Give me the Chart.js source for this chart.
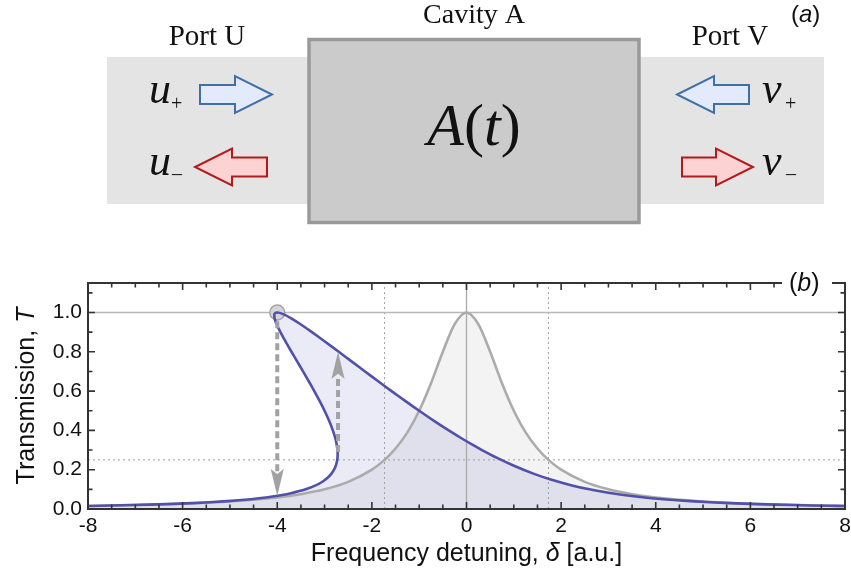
<!DOCTYPE html>
<html>
<head>
<meta charset="utf-8">
<script src="https://cdn.jsdelivr.net/npm/chart.js@4.4.1/dist/chart.umd.min.js"></script>
<style>
html, body { margin: 0; padding: 0; background: #fff; }
canvas { display: block; }
</style>
</head>
<body>
<canvas id="chart" width="851" height="574"></canvas>
<script>
// linear cavity (grey Lorentzian)
const detuning = [-8, -7, -6, -5, -4, -3.5, -3, -2.5, -2, -1.75, -1.5, -1.25, -1, -0.75, -0.5, -0.25, 0,
                  0.25, 0.5, 0.75, 1, 1.25, 1.5, 1.75, 2, 2.5, 3, 3.5, 4, 5, 6, 7, 8];
const linearT = [0.0154, 0.02, 0.027, 0.0385, 0.0588, 0.0755, 0.1, 0.138, 0.2, 0.246, 0.308, 0.39, 0.5, 0.64, 0.8, 0.941, 1,
                 0.941, 0.8, 0.64, 0.5, 0.39, 0.308, 0.246, 0.2, 0.138, 0.1, 0.0755, 0.0588, 0.0385, 0.027, 0.02, 0.0154];

// nonlinear cavity (blue S-curve), points in order along the curve
const kerrDetuning = [-8, -7.08, -6.345, -5.806, -5.059, -4.559, -4.198, -3.925, -3.711, -3.4, -3.188, -3.038,
                      -2.931, -2.854, -2.8, -2.763, -2.74, -2.727, -2.724, -2.728, -2.745, -2.773, -2.825, -2.906,
                      -3.0, -3.105, -3.217, -3.334, -3.455, -3.577, -3.7, -3.82, -3.933, -4.013, -4.056, -4.061,
                      -4.037, -4.0, -3.947, -3.86, -3.704, -3.507, -3.267, -2.98, -2.7, -2.423, -2.145, -1.866,
                      -1.584, -1.296, -1.0, -0.695, -0.375, -0.107, 0.105, 0.328, 0.647, 1.003, 1.414, 1.781,
                      2.228, 2.6, 3.071, 3.718, 4.159, 4.739, 5.566, 6.145, 6.92, 7.655, 8];
const kerrT = [0.0156, 0.02, 0.025, 0.03, 0.04, 0.05, 0.06, 0.07, 0.08, 0.1, 0.12, 0.14,
               0.16, 0.18, 0.2, 0.22, 0.24, 0.26, 0.28, 0.3, 0.33, 0.36, 0.4, 0.45,
               0.5, 0.55, 0.6, 0.65, 0.7, 0.75, 0.8, 0.85, 0.9, 0.94, 0.97, 0.99,
               0.998, 1.0, 0.998, 0.99, 0.97, 0.94, 0.9, 0.85, 0.8, 0.75, 0.7, 0.65,
               0.6, 0.55, 0.5, 0.45, 0.4, 0.36, 0.33, 0.3, 0.26, 0.22, 0.18, 0.15,
               0.12, 0.1, 0.08, 0.06, 0.05, 0.04, 0.03, 0.025, 0.02, 0.0165, 0.0152];

const xTickValues = [-8, -6, -4, -2, 0, 2, 4, 6, 8];
const yTickValues = [0, 0.2, 0.4, 0.6, 0.8, 1.0];

// reference lines
const halfLevel = 0.25;
const halfWidth = [-1.732, 1.732];
// bistability jumps: [x, from T, to T]
const jumps = [[-4, 0.955, 0.066], [-2.715, 0.29, 0.80]];
const peakPoint = [{x: -4, y: 1}];

const toXY = (xs, ys) => xs.map((v, i) => ({x: v, y: ys[i]}));

const SANS = '"Liberation Sans", Arial, sans-serif';
const SERIF = '"Liberation Serif", "Times New Roman", serif';

function runs(ctx, parts, x, y, align) {
  let w = 0;
  parts.forEach(p => { ctx.font = p[1]; w += ctx.measureText(p[0]).width; });
  let cx = align === 'center' ? x - w / 2 : x;
  ctx.textAlign = 'left';
  parts.forEach(p => { ctx.font = p[1]; ctx.fillText(p[0], cx, y); cx += ctx.measureText(p[0]).width; });
}

function blockArrow(ctx, tail, tip, cy, fill, stroke) {
  const dir = Math.sign(tip - tail);
  const hb = tip - dir * 37;
  const sh = 9.5, hh = 18.5;
  ctx.beginPath();
  ctx.moveTo(tail, cy - sh);
  ctx.lineTo(hb, cy - sh);
  ctx.lineTo(hb, cy - hh);
  ctx.lineTo(tip, cy);
  ctx.lineTo(hb, cy + hh);
  ctx.lineTo(hb, cy + sh);
  ctx.lineTo(tail, cy + sh);
  ctx.closePath();
  ctx.fillStyle = fill;
  ctx.fill();
  ctx.lineWidth = 2;
  ctx.strokeStyle = stroke;
  ctx.stroke();
}

function drawDiagram(ctx) {
  ctx.save();
  ctx.fillStyle = '#e4e4e4';
  ctx.fillRect(107, 57, 202, 147);
  ctx.fillRect(640, 57, 184, 147);
  ctx.fillStyle = '#cbcbcb';
  ctx.fillRect(309, 39.5, 330, 183);
  ctx.strokeStyle = '#9a9a9a';
  ctx.lineWidth = 3.5;
  ctx.strokeRect(309, 39.5, 330, 183);

  ctx.fillStyle = '#111';
  ctx.textBaseline = 'alphabetic';
  runs(ctx, [['Cavity A', '28px ' + SERIF]], 474, 23, 'center');
  runs(ctx, [['Port U', '29px ' + SERIF]], 207, 45, 'center');
  runs(ctx, [['Port V', '29px ' + SERIF]], 730, 45, 'center');
  runs(ctx, [['(', '24px ' + SANS], ['a', 'italic 24px ' + SANS], [')', '24px ' + SANS]], 791, 22, 'left');
  runs(ctx, [['A', 'italic 60px ' + SERIF], ['(', '60px ' + SERIF], ['t', 'italic 60px ' + SERIF], [')', '60px ' + SERIF]], 474, 145, 'center');

  runs(ctx, [['u', 'italic 44px ' + SERIF]], 149, 103, 'left');
  runs(ctx, [['+', '20px ' + SERIF]], 171, 110, 'left');
  runs(ctx, [['u', 'italic 44px ' + SERIF]], 149, 175, 'left');
  runs(ctx, [['\u2013', '20px ' + SERIF]], 172, 180, 'left');
  runs(ctx, [['v', 'italic 44px ' + SERIF]], 762, 103, 'left');
  runs(ctx, [['+', '20px ' + SERIF]], 785, 110, 'left');
  runs(ctx, [['v', 'italic 44px ' + SERIF]], 762, 175, 'left');
  runs(ctx, [['\u2013', '20px ' + SERIF]], 786, 180, 'left');

  const bF = '#e3eafb', bS = '#3f6fa7', rF = '#fdd2d2', rS = '#b11a1a';
  blockArrow(ctx, 200, 272, 94.5, bF, bS);
  blockArrow(ctx, 267, 195, 167, rF, rS);
  blockArrow(ctx, 749, 677, 94.5, bF, bS);
  blockArrow(ctx, 682, 753, 167, rF, rS);
  ctx.restore();
}

function jumpArrow(ctx, px, y0, y1) {
  const dir = Math.sign(y1 - y0);
  const base = y1 - dir * 27;
  ctx.save();
  ctx.strokeStyle = '#a2a2a2';
  ctx.fillStyle = '#a2a2a2';
  ctx.lineWidth = 4;
  ctx.setLineDash([7, 4]);
  ctx.beginPath();
  ctx.moveTo(px, y0);
  ctx.lineTo(px, base + dir * 3);
  ctx.stroke();
  ctx.setLineDash([]);
  ctx.beginPath();
  ctx.moveTo(px, y1);
  ctx.lineTo(px - 6.5, base);
  ctx.lineTo(px, base + dir * 5);
  ctx.lineTo(px + 6.5, base);
  ctx.closePath();
  ctx.fill();
  ctx.restore();
}

const decorations = {
  id: 'decorations',
  afterDatasetsDraw(chart) {
    const {ctx, chartArea: a, scales: {x, y}} = chart;
    jumps.forEach(j => jumpArrow(ctx, x.getPixelForValue(j[0]), y.getPixelForValue(j[1]), y.getPixelForValue(j[2])));
  },
  afterDraw(chart) {
    const {ctx, chartArea: a, scales: {x, y}} = chart;
    drawDiagram(ctx);
    ctx.save();
    ctx.strokeStyle = '#333';
    ctx.lineWidth = 1.6;
    ctx.beginPath();
    for (let v = -8; v <= 8.001; v += 0.5) {
      const px = x.getPixelForValue(v);
      const len = Math.abs(v % 2) < 1e-6 ? 7 : 4.5;
      ctx.moveTo(px, a.bottom); ctx.lineTo(px, a.bottom - len);
      ctx.moveTo(px, a.top); ctx.lineTo(px, a.top + len);
    }
    for (let i = 0; i <= 11; i++) {
      const py = y.getPixelForValue(i / 10);
      const len = i % 2 === 0 ? 7 : 4.5;
      ctx.moveTo(a.left, py); ctx.lineTo(a.left + len, py);
      ctx.moveTo(a.right, py); ctx.lineTo(a.right - len, py);
    }
    ctx.stroke();
    ctx.lineWidth = 2;
    ctx.strokeRect(a.left, a.top, a.right - a.left, a.bottom - a.top);

    // panel label (b)
    ctx.fillStyle = '#fff';
    ctx.fillRect(782, a.top - 14, 50, 24);
    ctx.fillStyle = '#111';
    ctx.textBaseline = 'alphabetic';
    runs(ctx, [['(', '25px ' + SANS], ['b', 'italic 25px ' + SANS], [')', '25px ' + SANS]], 789, 291, 'left');

    // axis titles
    runs(ctx, [['Frequency detuning, ', '25px ' + SANS], ['\u03b4', 'italic 25px ' + SANS], [' [a.u.]', '25px ' + SANS]],
      (a.left + a.right) / 2, 561, 'center');
    ctx.translate(34, (a.top + a.bottom) / 2);
    ctx.rotate(-Math.PI / 2);
    runs(ctx, [['Transmission, ', '25px ' + SANS], ['T', 'italic 25px ' + SANS]], 0, 0, 'center');
    ctx.restore();
  }
};

const refStyle = {showLine: true, pointRadius: 0, fill: false, tension: 0};

new Chart(document.getElementById('chart'), {
  type: 'scatter',
  data: {
    datasets: [
      {
        label: 'nonlinear',
        data: toXY(kerrDetuning, kerrT),
        showLine: true, pointRadius: 0, tension: 0.25,
        borderColor: '#5151a9', borderWidth: 2.6,
        fill: 'origin', backgroundColor: 'rgba(90, 90, 190, 0.12)'
      },
      {
        label: 'peak',
        data: peakPoint,
        pointRadius: 7.5, pointBackgroundColor: '#d5d5d5', pointBorderColor: '#a5a5a5', pointBorderWidth: 1.5
      },
      {
        label: 'linear',
        data: toXY(detuning, linearT),
        showLine: true, pointRadius: 0, cubicInterpolationMode: 'monotone',
        borderColor: '#ababab', borderWidth: 2.6,
        fill: 'origin', backgroundColor: '#f3f3f3'
      },
      Object.assign({data: [{x: -8, y: 1}, {x: 8, y: 1}], borderColor: '#b8b8b8', borderWidth: 1.5}, refStyle),
      Object.assign({data: [{x: 0, y: 0}, {x: 0, y: 1.15}], borderColor: '#aaaaaa', borderWidth: 1.3}, refStyle),
      Object.assign({data: [{x: -8, y: halfLevel}, {x: 8, y: halfLevel}], borderColor: '#a0a0a0', borderWidth: 1, borderDash: [2, 3]}, refStyle),
      ...halfWidth.map(v => Object.assign({data: [{x: v, y: 0}, {x: v, y: 1.15}], borderColor: '#a0a0a0', borderWidth: 1, borderDash: [2, 3]}, refStyle))
    ]
  },
  options: {
    responsive: false,
    animation: false,
    devicePixelRatio: 1,
    layout: {autoPadding: false, padding: {top: 283, right: 6, bottom: 0, left: 0}},
    plugins: {
      legend: {display: false},
      tooltip: {enabled: false},
      filler: {drawTime: 'beforeDatasetsDraw'}
    },
    scales: {
      x: {
        type: 'linear', min: -8, max: 8,
        grid: {display: false, drawTicks: false}, border: {display: false},
        afterBuildTicks: s => { s.ticks = xTickValues.map(v => ({value: v})); },
        afterFit: s => { s.height = 65; s.paddingRight = 0; s.paddingLeft = 0; },
        ticks: {font: {family: SANS, size: 21}, color: '#111', padding: 5, autoSkip: false, maxRotation: 0,
                callback: v => String(v)}
      },
      y: {
        type: 'linear', min: 0, max: 1.15,
        grid: {display: false, drawTicks: false}, border: {display: false},
        afterBuildTicks: s => { s.ticks = yTickValues.map(v => ({value: v})); },
        afterFit: s => { s.width = 88; s.paddingTop = 0; s.paddingBottom = 0; },
        ticks: {font: {family: SANS, size: 21}, color: '#111', padding: 6, callback: v => v.toFixed(1)}
      }
    }
  },
  plugins: [decorations]
});
</script>
</body>
</html>
